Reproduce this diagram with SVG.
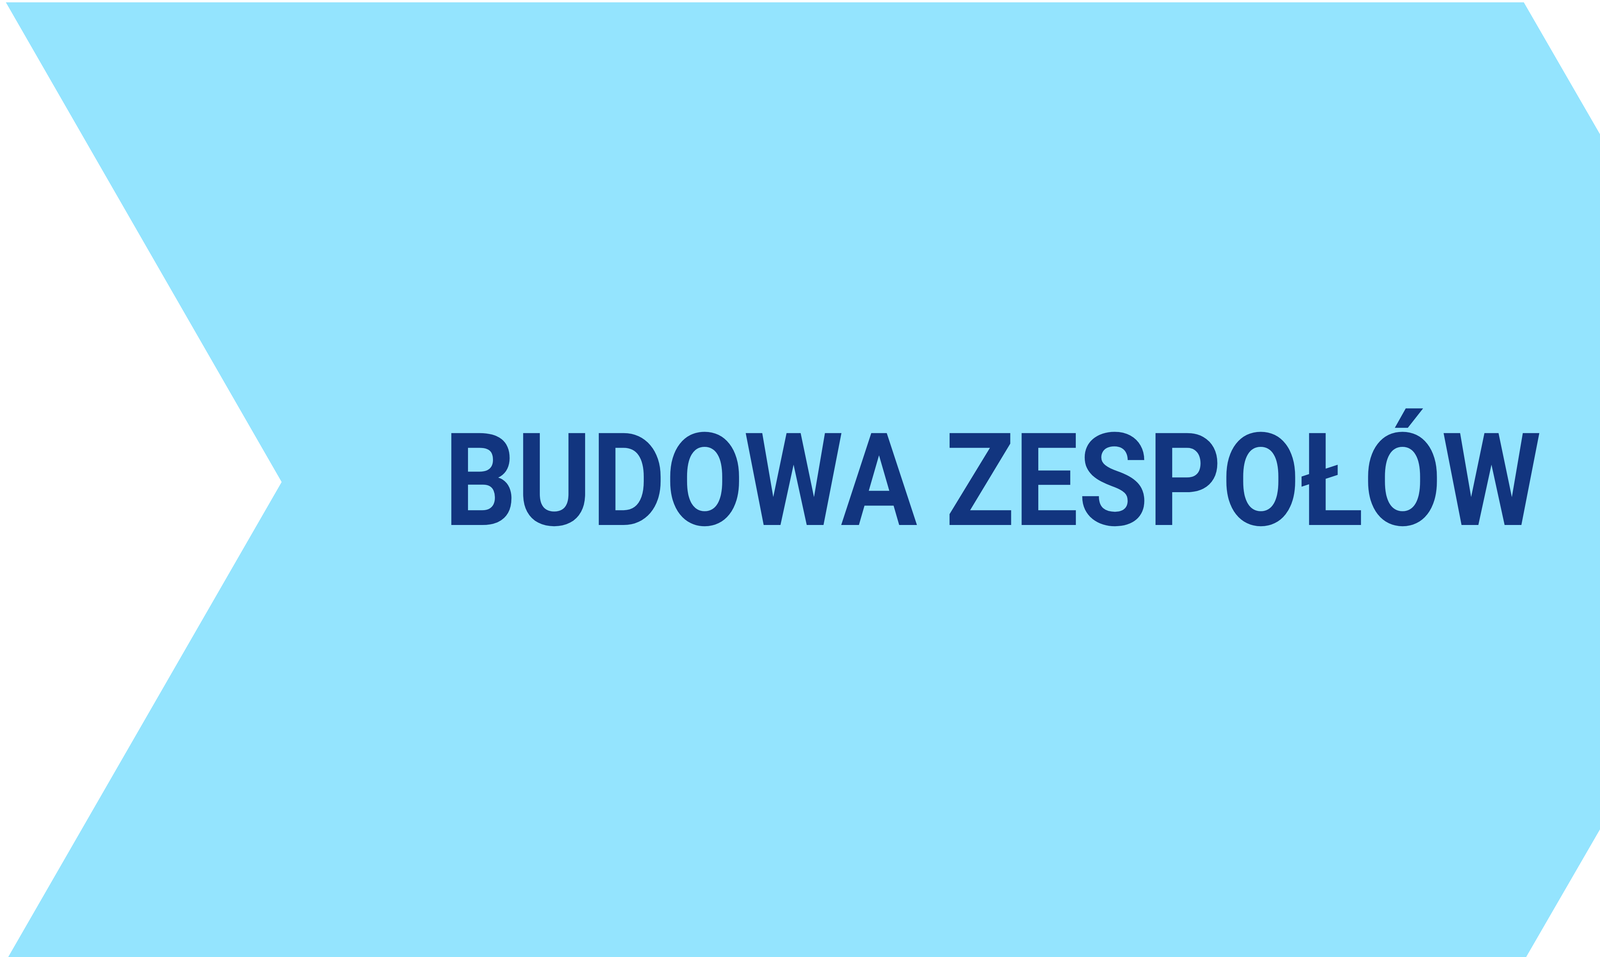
<svg xmlns="http://www.w3.org/2000/svg" width="4634" height="2450" viewBox="0 0 4634 2450">
<style>
.shape{fill:#94E4FE;}
.label{font-family:Roboto,"Liberation Sans",sans-serif;font-weight:bold;font-size:331px;fill:#12357F;}
</style>
<rect width="4634" height="2450" fill="#FFFFFF"/>
<g id="chevron">
<polygon class="shape" points="15,6 3901,6 4610,1234 3907,2450 21,2450 721,1234"/>
<text class="label" x="0" y="0" transform="matrix(0.879,0,0,1,1137,1344)">BUDOWA ZESPOŁÓW</text>
</g>
<g id="connectors"/>
</svg>
